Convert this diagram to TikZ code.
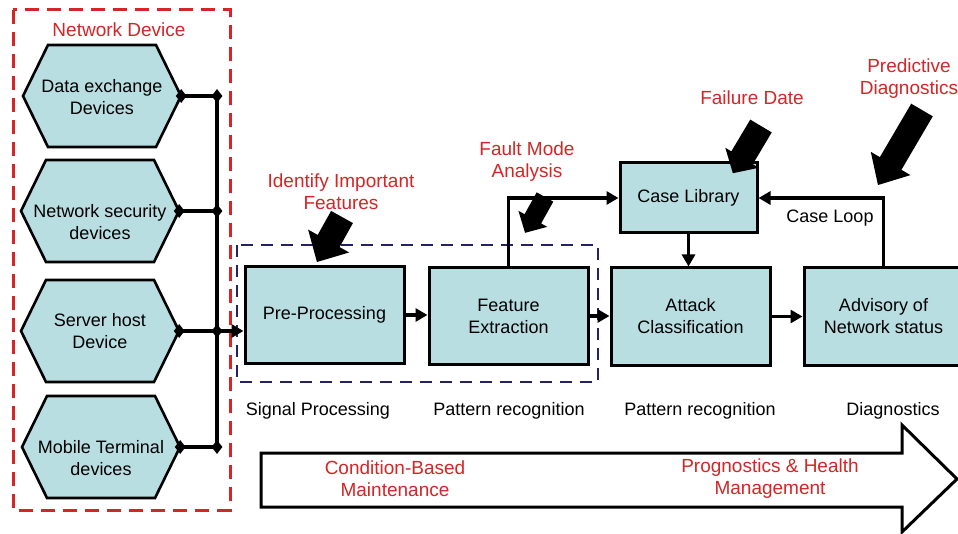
\documentclass[tikz,border=0pt]{standalone}
\usepackage{fontspec}
\setmainfont{Liberation Sans}
\usetikzlibrary{arrows.meta,shapes.geometric}
\definecolor{boxfill}{RGB}{184,222,226}
\definecolor{lblred}{RGB}{212,38,38}
\definecolor{navy}{RGB}{34,34,100}
\newcommand\hexdev[4]{%
  \path[hexshape, shift={(#2)}] (-79,0) -- (-54,-51) -- (54,-51) -- (79,0) -- (54,51) -- (-54,51) -- cycle;
  \node[hexanchor] (#1) at (#2) {};
  \node[hextext] (#1t) at ([yshift=-#3pt]#1.center) {#4};
}
\newcommand\blockarrow[6]{% tail, angle, length, shaft, head width, head length
  \begin{scope}[shift={(#1)},rotate=#2]
    \fill[black] (0,{-#4/2}) -- ({#3-#6},{-#4/2}) -- ({#3-#6},{-#5/2}) -- (#3,0)
      -- ({#3-#6},{#5/2}) -- ({#3-#6},{#4/2}) -- (0,{#4/2}) -- cycle;
  \end{scope}
}
\begin{document}
\begin{tikzpicture}[x=1pt,y=-1pt,
  txt/.style={font=\fontsize{18}{22}\selectfont, align=center, inner sep=0},
  redtxt/.style={font=\fontsize{19}{22}\selectfont, text=lblred, align=center, inner sep=0},
  hexshape/.style={draw=black, line width=2.6pt, fill=boxfill, line join=miter},
  hexanchor/.style={minimum width=158pt, minimum height=102pt, inner sep=0},
  hextext/.style={txt},
  box/.style={draw=black, line width=3pt, fill=boxfill, minimum width=159pt, minimum height=97pt, txt},
  conn/.style={line width=3.6pt},
  arr/.style={conn, -{Triangle[length=12pt,width=13pt]}},
  dot/.style={diamond, fill=black, inner sep=0, minimum width=11pt, minimum height=14pt}
]
\useasboundingbox (0,0) rectangle (958,534);
\fill[white] (0,0) rectangle (958,534);

% group frames
\draw[lblred, line width=3pt, dash pattern=on 14pt off 8pt] (13,10) rectangle (230,510);
\draw[navy, line width=2.6pt, dash pattern=on 12pt off 8pt] (237,245) rectangle (598,382);
\node[redtxt] (netdev) at (119,30) {Network Device};

% devices
\hexdev{h1}{102,96}{1}{Data exchange\\Devices}
\hexdev{h2}{100,211}{11}{Network security\\devices}
\hexdev{h3}{100,331}{0}{Server host\\Device}
\hexdev{h4}{101,447}{11}{Mobile Terminal\\devices}

% bus
\coordinate (bus) at (217,0);
\foreach \h in {h1,h2,h3,h4}{
  \draw[conn] (\h.east) -- (\h.east -| bus);
}
\draw[conn, line cap=rect] (h1.east -| bus) -- (h4.east -| bus);
\foreach \h in {h1,h2,h3,h4}{
  \node[dot] (\h d1) at (\h.east) {};
  \node[dot] (\h d2) at (\h.east -| bus) {};
}

% process boxes
\node[box] (pre) at (324.5,315) {Pre-Processing};
\node[box] (fe) at (508.5,316) {Feature\\Extraction};
\node[box, minimum width=137pt, minimum height=70pt] (case) at (688.5,198) {Case Library};
\node[box] (atk) at (690.5,316.5) {Attack\\Classification};
\node[box] (adv) at (883.5,316.5) {Advisory of\\Network status};

% connectors
\draw[arr] (h3.east -| bus) -- (h3.east -| pre.west);
\draw[arr] (pre.east) -- (pre.east -| fe.west);
\draw[arr] (fe.east) -- (fe.east -| atk.west);
\draw[arr] (atk.east) -- (atk.east -| adv.west);
\draw[arr] (fe.north) |- (case.west);
\draw[arr] (case.south) -- (case.south |- atk.north);
\draw[arr] (adv.north) |- (case.east);
\node[txt] (loop) at (830,218) {Case Loop};

% red annotations and block arrows
\node[redtxt] (ident) at (341,192) {Identify Important\\Features};
\node[redtxt] (fault) at (527,162) {Fault Mode\\Analysis};
\node[redtxt] (fail) at (752,98) {Failure Date};
\node[redtxt] (pred) at (909,79) {Predictive\\Diagnostics};
\blockarrow{342,217}{240.9}{51.5}{25}{47}{24}
\blockarrow{545,197}{240.9}{41}{19}{33}{16}
\blockarrow{761,126}{239.2}{55}{25}{39}{18}
\blockarrow{922,110}{239.6}{87}{25}{46}{25}

% stage labels
\node[txt] (s1) at (318,411) {Signal Processing};
\node[txt] (s2) at (509,411) {Pattern recognition};
\node[txt] (s3) at (700,411) {Pattern recognition};
\node[txt] (s4) at (893,411) {Diagnostics};

% bottom arrow
\draw[line width=3pt, line join=miter] (261,453) -- (902,453) -- (902,425) -- (957,479) -- (902,532) -- (902,507) -- (261,507) -- cycle;
\node[redtxt] (cbm) at (395,479) {Condition-Based\\Maintenance};
\node[redtxt] (phm) at (770,479) {Prognostics \& Health\\Management};
\end{tikzpicture}
\end{document}
